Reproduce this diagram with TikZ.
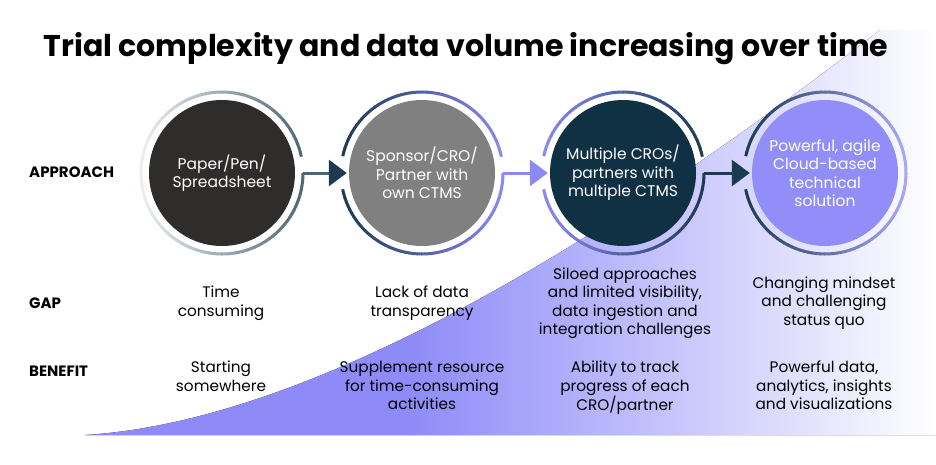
\documentclass[tikz,border=0pt]{standalone}
\usepackage{fontspec}
\setmainfont{Poppins}
\usepackage{tikz}
\usetikzlibrary{arrows.meta}
\usetikzlibrary{positioning}

\definecolor{charcoal}{HTML}{2F2C2C}
\definecolor{midgray}{HTML}{808080}
\definecolor{deepnavy}{HTML}{0F3143}
\definecolor{lilac}{HTML}{918EF9}
\definecolor{slate}{HTML}{4D6676}
\definecolor{linknavy}{HTML}{1C3A50}
\definecolor{linkpurple}{HTML}{8B89F4}
\definecolor{palegray}{HTML}{ECEFF1}
\definecolor{palelilac}{HTML}{A9A7FA}
\definecolor{wavepurple}{HTML}{8E8BF8}

\pgfdeclarehorizontalshading{wave_fade}{100bp}{
    color(0bp)=(wavepurple);
    color(25bp)=(wavepurple);
    color(44bp)=(wavepurple);
    color(75bp)=(white);
    color(100bp)=(white)
}

\tikzstyle{stage_ring} = [
    circle,
    inner sep=0pt,
    minimum size=162pt
]
\tikzstyle{stage_node} = [
    circle,
    white,
    font=\fontsize{15.5}{18.5}\selectfont,
    align=center,
    inner sep=0pt,
    minimum size=146pt
]
\tikzstyle{row_label} = [
    anchor=west,
    inner sep=0pt,
    font=\bfseries\fontsize{15}{18}\selectfont
]
\tikzstyle{info_text} = [
    align=center,
    inner sep=0pt,
    font=\fontsize{15.3}{18.5}\selectfont
]
\tikzstyle{ring_seg} = [line width=3pt]
\tikzstyle{link} = [
    line width=3pt,
    shorten >=2pt,
    -{Triangle[length=18pt, width=26pt]}
]

% gradient ring piece: centre, from angle, to angle, left colour, right colour
\newcommand{\gradarc}[5]{%
    \pgfmathtruncatemacro{\secondang}{#2+3}%
    \pgfmathtruncatemacro{\lastang}{#3-3}%
    \foreach \a in {#2,\secondang,...,\lastang}{
        \pgfmathtruncatemacro{\mixpct}{50+50*cos(\a+1.5)}
        \draw[ring_seg, #5!\mixpct!#4] (#1.center) ++(\a:81)
            arc[start angle=\a, end angle=\a+3.4, radius=81];
    }%
}

\begin{document}
\begin{tikzpicture}[x=1pt, y=-1pt]
\useasboundingbox (0,0) rectangle (936,464);
\fill[white] (0,0) rectangle (936,464);

% rising background wave
\fill[shading=wave_fade] (85,435) .. controls (330,420) and (640,215) .. (880,30)
    -- (936,30) -- (936,435) -- cycle;

\node[font=\bfseries\fontsize{30}{34}\selectfont, inner sep=0pt] (title) at (466,49)
    {Trial complexity and data volume increasing over time};

% row labels
\node[row_label] (approach) at (29,172) {APPROACH};
\node[row_label] (gap) at (29,303) {GAP};
\node[row_label] (benefit) at (29,371) {BENEFIT};

% stages
\node[stage_ring] (r1) at (222,173) {};
\node[stage_ring] (r2) at (422,173) {};
\node[stage_ring] (r3) at (623,173) {};
\node[stage_ring] (r4) at (825,173) {};

\gradarc{r1}{0}{348}{palegray}{slate}
\gradarc{r2}{0}{168}{linknavy}{linkpurple}
\gradarc{r2}{192}{348}{linknavy}{linkpurple}
\gradarc{r3}{0}{168}{linkpurple}{linknavy}
\gradarc{r3}{192}{348}{linkpurple}{linknavy}
\gradarc{r4}{0}{168}{linknavy}{palelilac}
\gradarc{r4}{192}{360}{linknavy}{palelilac}

\node[stage_node, fill=charcoal] (p1) at (r1) {Paper/Pen/\\Spreadsheet};
\node[stage_node, fill=midgray] (p2) at (r2) {Sponsor/CRO/\\Partner with\\own CTMS};
\node[stage_node, fill=deepnavy] (p3) at (r3) {Multiple CROs/\\partners with\\multiple CTMS};
\node[stage_node, fill=lilac] (p4) at (r4) {Powerful, agile\\Cloud-based\\technical\\solution};

\draw[link, slate, -{Triangle[length=18pt, width=26pt, color=linknavy]}] (r1.east) -- (p2.west);
\draw[link, linkpurple] (r2.east) -- (p3.west);
\draw[link, linknavy] (r3.east) -- (p4.west);

% gaps
\node[info_text] (g1) at (221,303) {Time\\consuming};
\node[info_text] (g2) at (422,303) {Lack of data\\transparency};
\node[info_text] (g3) at (625,303) {Siloed approaches\\and limited visibility,\\data ingestion and\\integration challenges};
\node[info_text] (g4) at (824,303) {Changing mindset\\and challenging\\status quo};

% benefits
\node[info_text, anchor=north] (b1) at (221,361) {Starting\\somewhere};
\node[info_text, anchor=north] (b2) at (422,361) {Supplement resource\\for time-consuming\\activities};
\node[info_text, anchor=north] (b3) at (625,361) {Ability to track\\progress of each\\CRO/partner};
\node[info_text, anchor=north] (b4) at (824,361) {Powerful data,\\analytics, insights\\and visualizations};
\end{tikzpicture}
\end{document}
